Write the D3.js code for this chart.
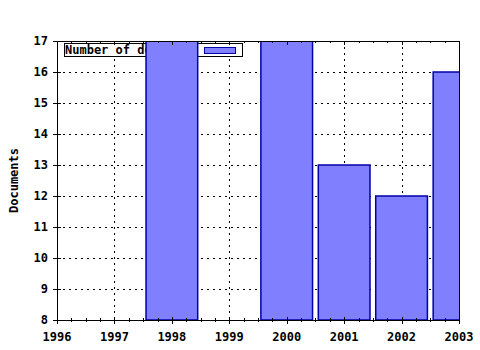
<!DOCTYPE html>
<html>
<head>
<meta charset="utf-8">
<script src="https://cdn.jsdelivr.net/npm/d3@7"></script>
<style>
  body { margin: 0; background: #fff; }
  text { font-family: "DejaVu Sans Mono", monospace; font-weight: bold; font-size: 12px; }
</style>
</head>
<body>
<div id="chart"></div>
<script>
// values (those below 8 are off the scale)
const years = [1996, 1997, 1998, 1999, 2000, 2001, 2002, 2003];
const documents = [5, 6, 19, 7, 18, 13, 12, 16];
const yTicks = [8, 9, 10, 11, 12, 13, 14, 15, 16, 17];
const legendLabel = 'Number of documents';

const svgWidth = 480, svgHeight = 350,
  plotLeft = 57, plotRight = 459, plotTop = 41, plotBottom = 320;

const svg = d3.select('#chart')
  .append('svg')
  .attr('width', svgWidth)
  .attr('height', svgHeight);

const x = d3.scaleLinear().domain([1996, 2003]).range([plotLeft, plotRight]);
const y = d3.scaleLinear().domain([8, 17]).range([plotBottom, plotTop]);
const barW = (x(1997) - x(1996)) * 0.9;

// dotted grid
svg.selectAll('.vgrid')
  .data(years)
  .enter()
  .append('line')
  .attr('x1', d => Math.round(x(d)) + 0.5)
  .attr('x2', d => Math.round(x(d)) + 0.5)
  .attr('y1', plotTop)
  .attr('y2', plotBottom)
  .attr('stroke', '#000')
  .attr('stroke-dasharray', '2,4');

svg.selectAll('.hgrid')
  .data(yTicks)
  .enter()
  .append('line')
  .attr('x1', plotLeft)
  .attr('x2', plotRight)
  .attr('y1', d => Math.round(y(d)) + 0.5)
  .attr('y2', d => Math.round(y(d)) + 0.5)
  .attr('stroke', '#000')
  .attr('stroke-dasharray', '2,4');

// legend (drawn under the bars), text cut before the swatch
svg.append('clipPath')
  .attr('id', 'legendText')
  .append('rect')
  .attr('x', 64).attr('y', 43)
  .attr('width', 134).attr('height', 14);

svg.append('rect')
  .attr('x', 64.5).attr('y', 43.5)
  .attr('width', 178).attr('height', 13)
  .attr('fill', '#fff').attr('stroke', '#000');
svg.append('text')
  .attr('x', 65).attr('y', 54)
  .attr('clip-path', 'url(#legendText)')
  .text(legendLabel);
svg.append('rect')
  .attr('x', 204.5).attr('y', 47.5)
  .attr('width', 31).attr('height', 6)
  .attr('fill', '#8080ff').attr('stroke', '#0000aa');

// bars, clipped to the plot
svg.append('clipPath')
  .attr('id', 'plot')
  .append('rect')
  .attr('x', plotLeft).attr('y', plotTop)
  .attr('width', plotRight - plotLeft).attr('height', plotBottom - plotTop);

svg.append('g')
  .attr('clip-path', 'url(#plot)')
  .selectAll('rect')
  .data(years.map((d, i) => ({ year: d, value: documents[i] })))
  .enter()
  .append('rect')
  .attr('x', d => x(d.year) - barW / 2)
  .attr('y', d => y(d.value))
  .attr('width', barW)
  .attr('height', d => Math.max(0, y(8) - y(d.value)))
  .attr('fill', '#8080ff')
  .attr('stroke', '#0000aa')
  .attr('stroke-width', 1.5);

// frame
svg.append('rect')
  .attr('x', plotLeft + 0.5).attr('y', plotTop + 0.5)
  .attr('width', plotRight - plotLeft).attr('height', plotBottom - plotTop)
  .attr('fill', 'none').attr('stroke', '#000');

// x ticks, major and minor, bottom and top
const minor = d3.range(1996, 2003.01, 0.25);
svg.selectAll('.xt')
  .data(minor)
  .enter()
  .append('line')
  .attr('x1', d => Math.round(x(d)) + 0.5)
  .attr('x2', d => Math.round(x(d)) + 0.5)
  .attr('y1', d => Number.isInteger(d) ? plotBottom - 3 : plotBottom - 2)
  .attr('y2', d => Number.isInteger(d) ? plotBottom + 4 : plotBottom + 2)
  .attr('stroke', '#000');
svg.selectAll('.xtt')
  .data(minor)
  .enter()
  .append('line')
  .attr('x1', d => Math.round(x(d)) + 0.5)
  .attr('x2', d => Math.round(x(d)) + 0.5)
  .attr('y1', plotTop)
  .attr('y2', d => Number.isInteger(d) ? plotTop + 4 : plotTop + 2)
  .attr('stroke', '#000');

// y ticks
svg.selectAll('.yt')
  .data(yTicks)
  .enter()
  .append('line')
  .attr('x1', plotLeft - 4)
  .attr('x2', plotLeft + 4)
  .attr('y1', d => Math.round(y(d)) + 0.5)
  .attr('y2', d => Math.round(y(d)) + 0.5)
  .attr('stroke', '#000');

// labels
svg.selectAll('.xl')
  .data(years)
  .enter()
  .append('text')
  .attr('x', d => x(d))
  .attr('y', plotBottom + 21)
  .attr('text-anchor', 'middle')
  .text(d => d);

svg.selectAll('.yl')
  .data(yTicks)
  .enter()
  .append('text')
  .attr('x', plotLeft - 9)
  .attr('y', d => y(d) + 4)
  .attr('text-anchor', 'end')
  .text(d => d);

svg.append('text')
  .attr('transform', `translate(18, ${(plotTop + plotBottom) / 2}) rotate(-90)`)
  .attr('text-anchor', 'middle')
  .text('Documents');
</script>
</body>
</html>
